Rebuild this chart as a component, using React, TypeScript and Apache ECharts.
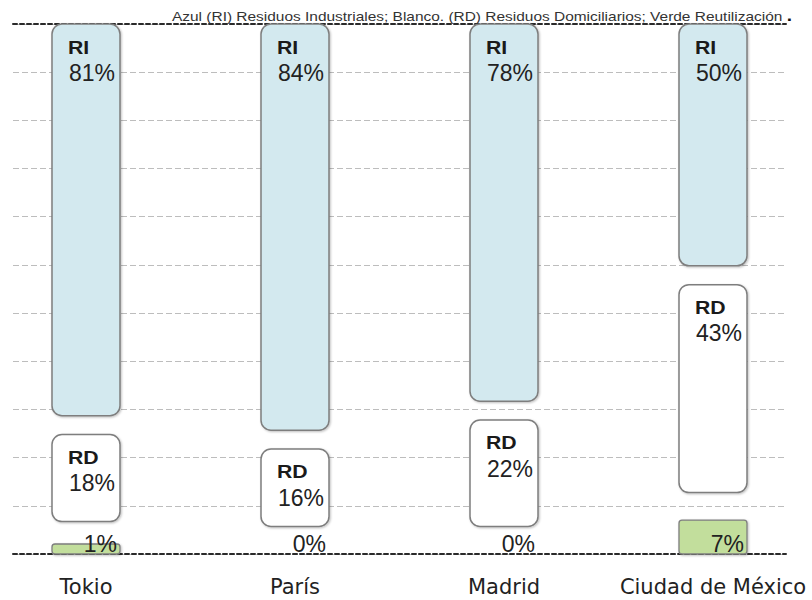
import React, { useEffect, useRef } from "react";
import * as echarts from "echarts";

const categories = ["Tokio", "París", "Madrid", "Ciudad de México"];
const reutilizacion = [1, 0, 0, 7];
const domiciliarios = [18, 16, 22, 43];
const industriales = [81, 84, 78, 50];
const gridSteps = 11;

const TITLE = "Azul (RI) Residuos Industriales; Blanco. (RD) Residuos Domiciliarios; Verde Reutilización";

const BLUE = "#d3e9ef";
const GREEN = "#c2de9c";
const STROKE = "#7e7e7e";
const GAP1 = 5.7;
const GAP2 = 3.9;
const YMAX = 100 + GAP1 + GAP2;
const FONT = "Liberation Sans, Arial, sans-serif";

export default function App() {
  const ref = useRef<HTMLDivElement>(null);
  useEffect(() => {
    if (!ref.current) return;
    const chart = echarts.init(ref.current, null, { renderer: "svg" });
    const data = categories.map((c, i) => [i, reutilizacion[i], domiciliarios[i], industriales[i]]);

    const barStyle = (fill: string) => ({
      fill,
      stroke: STROKE,
      lineWidth: 1.5,
      shadowBlur: 2,
      shadowOffsetX: 1,
      shadowOffsetY: 1,
      shadowColor: "rgba(0,0,0,0.25)",
    });

    const renderItem = (params: any, api: any) => {
      const i = api.value(0);
      const g = api.value(1);
      const rd = api.value(2);
      const ri = api.value(3);
      const cx = api.coord([i, 0])[0];
      const bw = 68;
      const x = cx - bw / 2;
      const y = (v: number) => api.coord([i, v])[1];
      const base = y(0);
      const children: any[] = [];
      const pctStyle = { fontSize: 23, fontFamily: FONT, fill: "#222" };
      const nameStyle = { fontSize: 18, fontWeight: "bold", fontFamily: FONT, fill: "#1a1a1a" };
      const name = (t: string, tx: number, ty: number) => ({
        type: "text",
        x: tx,
        y: ty,
        scaleX: 1.18,
        style: { ...nameStyle, text: t, x: 0, y: 0, verticalAlign: "top" },
      });
      if (g > 0) {
        const top = Math.min(y(g), base - 10);
        children.push({
          type: "rect",
          shape: { x, y: top, width: bw, height: base - top, r: 3 },
          style: { ...barStyle(GREEN), lineWidth: 1.3 },
        });
      }
      children.push({
        type: "text",
        style: { ...pctStyle, text: g + "%", x: x + bw - 3, y: base + 1, align: "right", verticalAlign: "bottom" },
      });
      const rdBottom = y(g + GAP1);
      const rdTop = y(g + GAP1 + rd);
      children.push({
        type: "rect",
        shape: { x, y: rdTop, width: bw, height: rdBottom - rdTop, r: 10 },
        style: barStyle("#ffffff"),
      });
      children.push(name("RD", x + 16, rdTop + 14));
      children.push({ type: "text", style: { ...pctStyle, text: rd + "%", x: x + 17, y: rdTop + 37, verticalAlign: "top" } });
      const riBottom = y(g + GAP1 + rd + GAP2);
      const riTop = y(g + GAP1 + rd + GAP2 + ri);
      children.push({
        type: "rect",
        shape: { x, y: riTop, width: bw, height: riBottom - riTop, r: 10 },
        style: barStyle(BLUE),
      });
      children.push(name("RI", x + 16, riTop + 15));
      children.push({ type: "text", style: { ...pctStyle, text: ri + "%", x: x + 17, y: riTop + 37, verticalAlign: "top" } });
      return { type: "group", children };
    };

    const darkLine = { show: true, lineStyle: { color: "#2a2a2a", width: 2, type: [4, 3] } };

    chart.setOption({
      animation: false,
      backgroundColor: "#ffffff",
      graphic: [
        {
          type: "text",
          x: 172,
          y: 8,
          scaleX: 1.19,
          z: 10,
          style: {
            text: "{a|" + TITLE + "}{b|.}",
            rich: {
              a: { fontSize: 13, fontFamily: FONT, fill: "#333" },
              b: { fontSize: 16, fontWeight: "bold", fontFamily: FONT, fill: "#111", padding: [0, 0, 0, 3] },
            },
          },
        },
      ],
      grid: [
        { left: 13, right: 26, top: 24, bottom: 46 },
        { left: 86, right: 99, top: 24, bottom: 46 },
      ],
      xAxis: [
        {
          gridIndex: 0,
          type: "value",
          min: 0,
          max: 1,
          position: "bottom",
          axisLine: darkLine,
          axisTick: { show: false },
          axisLabel: { show: false },
          splitLine: { show: false },
        },
        {
          gridIndex: 0,
          type: "value",
          min: 0,
          max: 1,
          position: "top",
          axisLine: darkLine,
          axisTick: { show: false },
          axisLabel: { show: false },
          splitLine: { show: false },
        },
        {
          gridIndex: 1,
          type: "category",
          data: categories,
          boundaryGap: false,
          axisLine: { show: false },
          axisTick: { show: false },
          axisLabel: {
            interval: 0,
            hideOverlap: false,
            fontSize: 21,
            fontFamily: "DejaVu Sans, Verdana, sans-serif",
            color: "#222",
            margin: 22,
          },
        },
      ],
      yAxis: [
        {
          gridIndex: 0,
          type: "value",
          min: 0,
          max: gridSteps,
          interval: 1,
          axisLine: { show: false },
          axisTick: { show: false },
          axisLabel: { show: false },
          splitLine: { show: true, lineStyle: { color: "#bdbdbd", width: 1.2, type: [6, 3] } },
        },
        {
          gridIndex: 1,
          type: "value",
          min: 0,
          max: YMAX,
          show: false,
        },
      ],
      series: [
        {
          type: "custom",
          xAxisIndex: 2,
          yAxisIndex: 1,
          renderItem,
          data,
          encode: { x: 0, y: [1, 2, 3] },
          clip: false,
        },
      ],
    });
    return () => chart.dispose();
  }, []);
  return <div ref={ref} style={{ position: "fixed", left: 0, top: 0, width: 812, height: 600 }} />;
}
